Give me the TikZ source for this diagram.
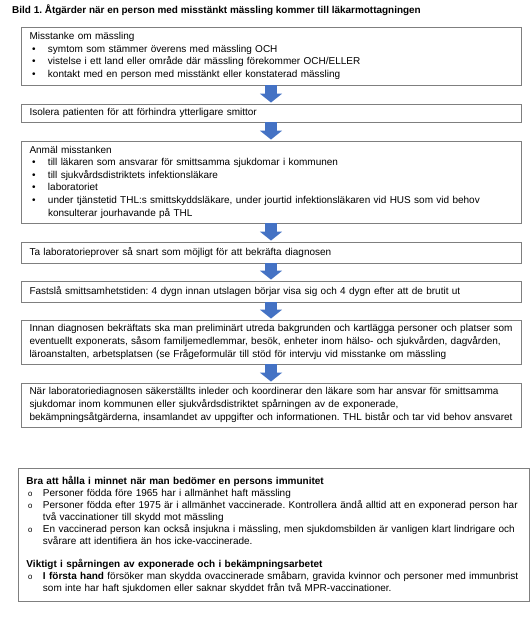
\documentclass[tikz,border=0pt]{standalone}
\usepackage{fontspec}
\setmainfont{Liberation Sans}
\newfontfamily\bulletmono{Liberation Mono}
\usetikzlibrary{arrows.meta}
\definecolor{arrowblue}{HTML}{4472C4}
\definecolor{boxgray}{HTML}{7F7F7F}
\frenchspacing
\newcommand\lne[1]{\mbox{#1}}
\newcommand\bul{\makebox[18.5pt][l]{\hspace{2.5pt}•}}
\newcommand\hang{\hspace*{18.5pt}}
\newcommand\obul{\makebox[16.5pt][l]{\hspace{1.5pt}{\bulletmono\fontsize{8}{8}\selectfont o}}}
\newcommand\ohang{\hspace*{16.5pt}}
\tikzset{
  flowbox/.style={draw=boxgray, line width=0.9pt, fill=white, minimum width=500pt,
    text width=483pt, inner xsep=8.5pt, inner ysep=1pt, align=left,
    font=\fontsize{10}{12.6}\selectfont},
  notebox/.style={draw=boxgray, line width=0.9pt, minimum width=511pt,
    text width=494pt, inner xsep=8.5pt, inner ysep=1pt, align=left,
    font=\fontsize{10}{12}\selectfont},
  flowarrow/.style={draw=arrowblue, line width=12pt,
    -{Triangle[width=22pt,length=9pt,fill=arrowblue]}, shorten >=1pt},
  titletext/.style={anchor=base west, inner sep=0pt, font=\bfseries\fontsize{9.95}{11}\selectfont}
}
\begin{document}
\begin{tikzpicture}[x=1pt,y=-1pt]
\useasboundingbox (0,0) rectangle (530,619);
\fill[white] (0,0) rectangle (530,619);

\node[titletext] (title) at (12,13) {Bild 1. Åtgärder när en person med misstänkt mässling kommer till läkarmottagningen};

\node[flowbox, minimum height=58pt] (b1) at (271,56) {%
\lne{Misstanke om mässling}\\
\lne{\bul symtom som stämmer överens med mässling OCH}\\
\lne{\bul vistelse i ett land eller område där mässling förekommer OCH/ELLER}\\
\lne{\bul kontakt med en person med misstänkt eller konstaterad mässling}};

\node[flowbox, minimum height=18pt] (b2) at (271,113) {%
\lne{Isolera patienten för att förhindra ytterligare smittor}};

\node[flowbox, minimum height=82pt] (b3) at (271,182) {%
\lne{Anmäl misstanken}\\
\lne{\bul till läkaren som ansvarar för smittsamma sjukdomar i kommunen}\\
\lne{\bul till sjukvårdsdistriktets infektionsläkare}\\
\lne{\bul laboratoriet}\\
\lne{\bul under tjänstetid THL:s smittskyddsläkare, under jourtid infektionsläkaren vid HUS som vid behov}\\
\lne{\hang konsulterar jourhavande på THL}};

\node[flowbox, minimum height=21pt] (b4) at (271,252.5) {%
\lne{Ta laboratorieprover så snart som möjligt för att bekräfta diagnosen}};

\node[flowbox, minimum height=21pt] (b5) at (271,291.5) {%
\lne{Fastslå smittsamhetstiden: 4 dygn innan utslagen börjar visa sig och 4 dygn efter att de brutit ut}};

\node[flowbox, minimum height=44pt] (b6) at (271,342) {%
\lne{Innan diagnosen bekräftats ska man preliminärt utreda bakgrunden och kartlägga personer och platser som}\\
\lne{eventuellt exponerats, såsom familjemedlemmar, besök, enheter inom hälso- och sjukvården, dagvården,}\\
\lne{läroanstalten, arbetsplatsen (se Frågeformulär till stöd för intervju vid misstanke om mässling}};

\node[flowbox, minimum height=44pt] (b7) at (271,405) {%
\lne{När laboratoriediagnosen säkerställts inleder och koordinerar den läkare som har ansvar för smittsamma}\\
\lne{sjukdomar inom kommunen eller sjukvårdsdistriktet spårningen av de exponerade,}\\
\lne{bekämpningsåtgärderna, insamlandet av uppgifter och informationen. THL bistår och tar vid behov ansvaret}};

\draw[flowarrow] (b1.south) -- (b2.north);
\draw[flowarrow] (b2.south) -- (b3.north);
\draw[flowarrow] (b3.south) -- (b4.north);
\draw[flowarrow] (b4.south) -- (b5.north);
\draw[flowarrow] (b5.south) -- (b6.north);
\draw[flowarrow] (b6.south) -- (b7.north);

\node[notebox, minimum height=133pt] (b8) at (273.5,534.5) {%
\lne{\bfseries Bra att hålla i minnet när man bedömer en persons immunitet}\\
\lne{\obul Personer födda före 1965 har i allmänhet haft mässling}\\
\lne{\obul Personer födda efter 1975 är i allmänhet vaccinerade. Kontrollera ändå alltid att en exponerad person har}\\
\lne{\ohang två vaccinationer till skydd mot mässling}\\
\lne{\obul En vaccinerad person kan också insjukna i mässling, men sjukdomsbilden är vanligen klart lindrigare och}\\
\lne{\ohang svårare att identifiera än hos icke-vaccinerade.}\\[11pt]
\lne{\bfseries Viktigt i spårningen av exponerade och i bekämpningsarbetet}\\
\lne{\obul \textbf{I första hand} försöker man skydda ovaccinerade småbarn, gravida kvinnor och personer med immunbrist}\\
\lne{\ohang som inte har haft sjukdomen eller saknar skyddet från två MPR-vaccinationer.}};
\end{tikzpicture}
\end{document}
